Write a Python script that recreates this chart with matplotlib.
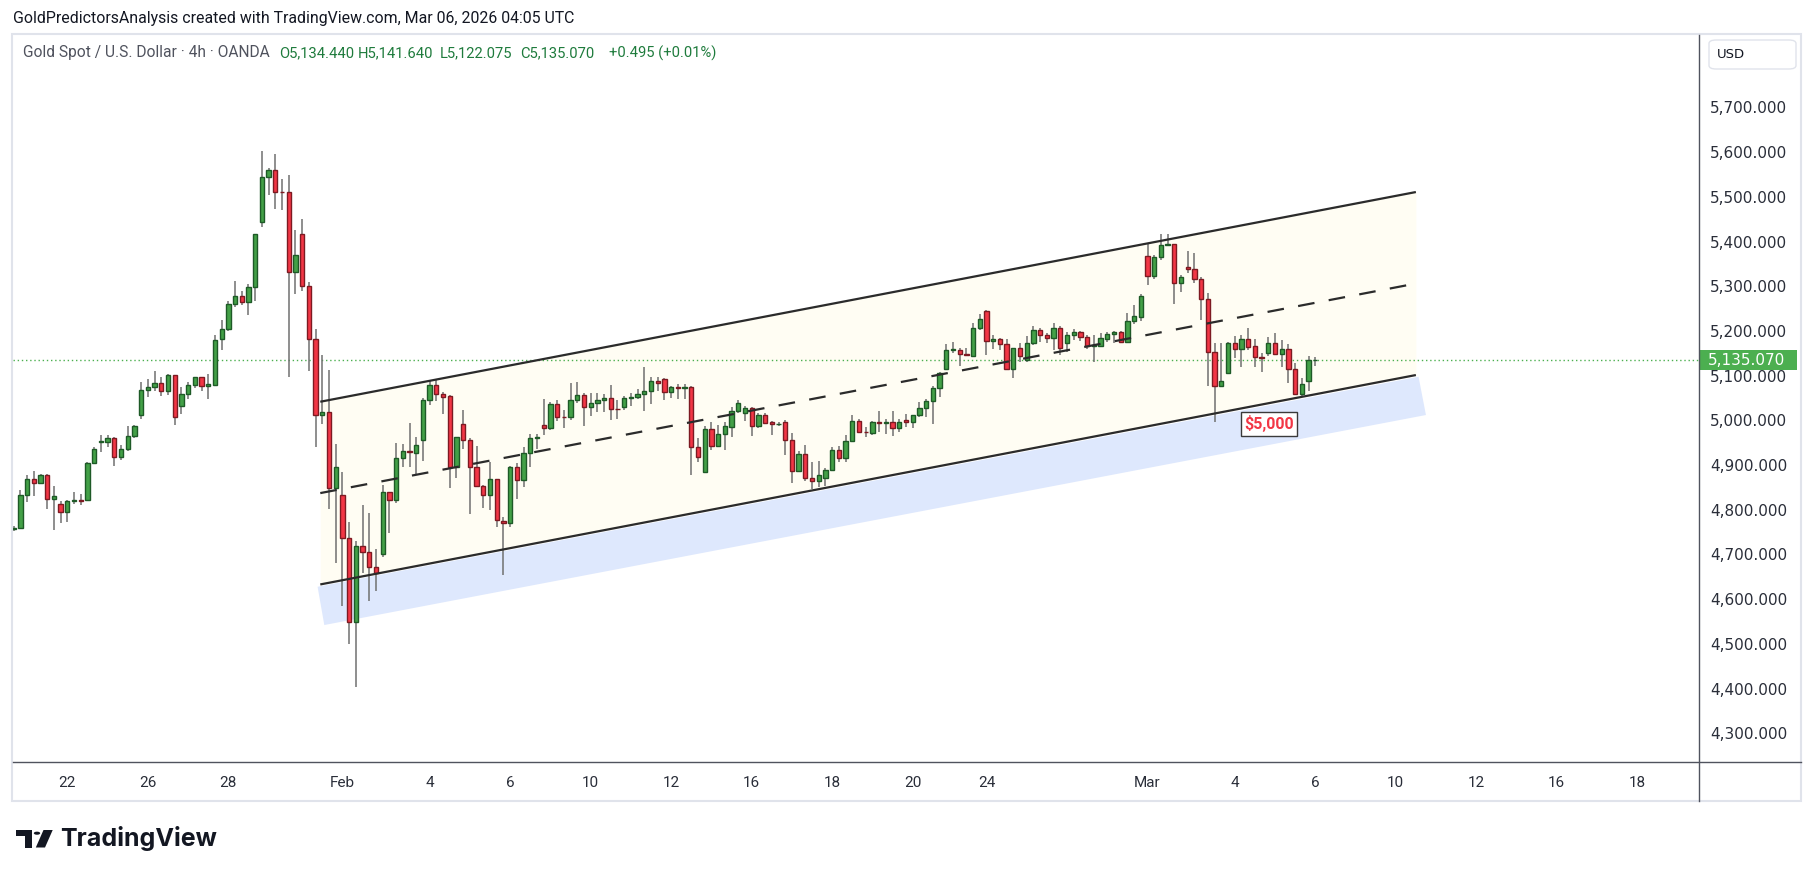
import numpy as np
import matplotlib.pyplot as plt
from matplotlib.patches import Rectangle, Polygon, FancyBboxPatch, Circle
from matplotlib.transforms import blended_transform_factory

# 4h candles, XAUUSD (OANDA)
opens = [4757, 4760, 4834, 4868, 4859, 4877, 4825, 4814, 4796, 4820,
         4821, 4822, 4904, 4952, 4952, 4960, 4917, 4937, 4965, 5013,
         5069, 5074, 5083, 5066, 5101, 5033, 5058, 5080, 5096, 5076,
         5080, 5181, 5204, 5260, 5278, 5265, 5298, 5444, 5544, 5561,
         5512, 5510, 5333, 5418, 5300, 5183, 5011, 5018, 4848, 4833,
         4736, 4548, 4718, 4705, 4673, 4702, 4839, 4823, 4915, 4931,
         4926, 4957, 5045, 5079, 5058, 5054, 4896, 4993, 4957, 4895,
         4854, 4834, 4868, 4776, 4771, 4895, 4866, 4928, 4960, 4989,
         4982, 5036, 5008.5, 5007, 5045, 5056, 5031, 5038, 5045, 5049,
         5026.5, 5031, 5051, 5052, 5060, 5065, 5089, 5093, 5063, 5074,
         5072, 5074, 4940, 4885, 4980, 4943, 4969, 4986, 5020, 5016,
         5027, 4988, 5012, 4996, 4991, 4996, 4955, 4887, 4924, 4870,
         4864, 4870, 4889, 4934, 4915, 4954, 4998, 4975, 4971, 4997,
         4995, 4996, 4984, 5000, 4996, 5011, 5027, 5043, 5072, 5116,
         5157, 5157, 5148, 5145, 5206, 5245, 5177, 5182, 5170, 5114,
         5163, 5134, 5174, 5202, 5192, 5184, 5206, 5172, 5191, 5197,
         5186, 5166, 5166, 5181, 5193, 5197, 5175, 5222, 5232, 5368,
         5324, 5365, 5392, 5394, 5307, 5344, 5338, 5317, 5272, 5154,
         5078, 5105, 5174, 5159, 5181, 5166, 5141, 5151, 5172, 5148,
         5159, 5116, 5060, 5089, 5134.44]
highs = [4763, 4844, 4878, 4887, 4880, 4880, 4853, 4820, 4823, 4839,
         4835, 4906, 4941, 4967, 4967, 4963, 4946, 4987, 4990, 5085,
         5092, 5110, 5096, 5103, 5102, 5075, 5085, 5098, 5098, 5104,
         5191, 5224, 5268, 5312, 5289, 5306, 5418, 5603, 5565, 5596,
         5541, 5549, 5426, 5450, 5310, 5204, 5146, 5113, 4947, 4884,
         4773, 4730, 4811, 4793, 4712, 4855, 4840, 4949, 4948, 4994,
         4962, 5051, 5090, 5090, 5064, 5057, 4963, 5023, 4960, 4943,
         4855, 4906, 4869, 4783, 4898, 4904, 4940, 4969, 4969, 5047,
         5041, 5045, 5023, 5084, 5085, 5062, 5062, 5062, 5060, 5079,
         5045, 5055, 5062, 5071, 5119, 5098, 5098, 5095, 5078, 5081,
         5082, 5078, 4960, 4987, 4997, 4990, 4997, 5029, 5045, 5032,
         5031, 5016, 5017, 4999, 4996, 5001, 4971, 4931, 4945, 4908,
         4910, 4893, 4941, 4943, 4967, 5011, 5002, 4986, 4998, 5021,
         5004, 5021, 5002, 5014, 5011, 5042, 5048, 5078, 5109, 5170,
         5175, 5163, 5163, 5217, 5239, 5248, 5191, 5184, 5181, 5163,
         5174, 5189, 5211, 5206, 5196, 5217, 5211, 5198, 5204, 5201,
         5190, 5192, 5196, 5198, 5200, 5200, 5241, 5258, 5282, 5396,
         5370, 5418, 5417, 5395, 5325, 5379, 5375, 5321, 5286, 5172,
         5172, 5176, 5189, 5191, 5207, 5181, 5150, 5187, 5195, 5180,
         5171, 5128, 5094, 5144, 5141.64]
lows = [4752, 4757, 4818, 4831, 4857, 4802, 4755, 4771, 4773, 4814,
        4811, 4820, 4902, 4930, 4940, 4899, 4911, 4932, 4960, 5004,
        5053, 5066, 5055, 5057, 4990, 5014, 5048, 5073, 5066, 5047,
        5078, 5157, 5200, 5253, 5259, 5236, 5268, 5433, 5504, 5473,
        5471, 5098, 5283, 5290, 5111, 4941, 4993, 4801, 4680, 4585,
        4499, 4403, 4658, 4597, 4619, 4695, 4747, 4816, 4895, 4895,
        4880, 4910, 5034, 5044, 5014, 4848, 4872, 4937, 4790, 4850,
        4803, 4799, 4761, 4655, 4761, 4825, 4852, 4895, 4935, 4967,
        4978, 4998, 4982, 5001, 5038, 4988, 5010, 5019, 5019, 5000,
        5004, 5023, 5033, 5047, 5020, 5036, 5066, 5045, 5051, 5047,
        5047, 4878, 4908, 4885, 4934, 4942, 4934, 4963, 5016, 4999,
        4966, 4984, 4991, 4967, 4988, 4923, 4859, 4885, 4865, 4846,
        4852, 4853, 4887, 4906, 4906, 4952, 4972, 4962, 4967, 4973,
        4970, 4964, 4975, 4986, 4982, 5008, 5007, 4991, 5053, 5115,
        5150, 5122, 5145, 5144, 5202, 5146, 5160, 5157, 5113, 5094,
        5131, 5131, 5169, 5176, 5174, 5157, 5146, 5154, 5180, 5178,
        5159, 5131, 5165, 5176, 5174, 5174, 5172, 5215, 5223, 5303,
        5316, 5359, 5389, 5260, 5288, 5330, 5307, 5225, 5077, 4997,
        5077, 5105, 5139, 5119, 5157, 5120, 5109, 5143, 5146, 5120,
        5083, 5058, 5052, 5066, 5122.075]
closes = [4760, 4834, 4868, 4859, 4877, 4825, 4831, 4796, 4819, 4821,
          4819, 4904, 4935, 4954, 4960, 4917, 4937, 4965, 4987, 5069,
          5074, 5083, 5066, 5101, 5007, 5058, 5080, 5096, 5076, 5081,
          5179, 5204, 5260, 5278, 5265, 5298, 5418, 5544, 5561, 5512,
          5510, 5333, 5369, 5300, 5183, 5011, 5018, 4848, 4895, 4736,
          4548, 4718, 4705, 4673, 4659, 4839, 4823, 4915, 4931, 4929,
          4946, 5045, 5079, 5058, 5053, 4896, 4962, 4957, 4895, 4854,
          4834, 4868, 4778, 4771, 4895, 4866, 4928, 4960, 4962, 4982,
          5036, 5007, 5007, 5045, 5056, 5031, 5038, 5045, 5049, 5025,
          5025, 5051, 5053, 5060, 5065, 5089, 5083, 5063, 5074, 5072,
          5074, 4940, 4919, 4980, 4943, 4969, 4987, 5020, 5040, 5027,
          4988, 5012, 4995, 4991, 4993, 4955, 4887, 4924, 4870, 4864,
          4877, 4889, 4934, 4915, 4954, 4998, 4975, 4973, 4996, 4995,
          4997, 4984, 4996, 4996, 5011, 5027, 5043, 5072, 5107, 5157,
          5159, 5148, 5146, 5206, 5226, 5177, 5182, 5170, 5114, 5163,
          5143, 5174, 5202, 5192, 5184, 5206, 5161, 5191, 5197, 5186,
          5166, 5168, 5185, 5193, 5197, 5175, 5222, 5233, 5278, 5324,
          5366, 5392, 5394, 5307, 5320, 5338, 5317, 5272, 5154, 5078,
          5087, 5174, 5159, 5181, 5165, 5141, 5139, 5172, 5148, 5159,
          5116, 5060, 5081, 5134, 5135.07]

# time axis: candle index where each date label sits
tick_idx = [8, 20, 32, 49, 62, 74, 86, 98, 110, 122, 134, 145,
            169, 182, 194, 206, 218, 230, 242]
tick_labels = ['22', '26', '28', 'Feb', '4', '6', '10', '12', '16', '18',
               '20', '24', 'Mar', '4', '6', '10', '12', '16', '18']
price_ticks = list(range(4300, 5701, 100))
last_price = 5135.07

# ascending channel drawing (candle index, price)
chan_x = [45.7, 209.0]
chan_upper = [5041.7, 5510.8]
chan_lower = [4633.0, 5101.4]
# support band under the channel
band_x = [45.3, 209.4, 210.5, 46.3]
band_y = [4627.8, 5097.6, 5012.0, 4542.2]
# price note
note_x, note_price, note_text = 187.1, 4992.3, '$5,000'

W, H = 1814, 877
fig = plt.figure(figsize=(W / 100, H / 100), dpi=100)
fig.patch.set_facecolor('white')


def fx(px):
    return px / W


def fy(py):
    return 1 - py / H


ax = fig.add_axes([fx(13), fy(762), fx(1699) - fx(13), fy(35) - fy(762)])
ax.set_xlim(-0.1, 251.2)
ax.set_ylim(4235.8, 5862.1)
for s in ax.spines.values():
    s.set_visible(False)

# channel fill, band, lines
ax.fill_between(chan_x, chan_lower, chan_upper, color='#fffdf3', zorder=0.5, lw=0)
ax.add_patch(Polygon(list(zip(band_x, band_y)), closed=True, fc='#dee8fd', ec='none', zorder=0.6))
ax.plot(chan_x, chan_upper, color='#2b2b2b', lw=1.6, zorder=4, solid_capstyle='butt')
ax.plot(chan_x, chan_lower, color='#2b2b2b', lw=1.6, zorder=4, solid_capstyle='butt')
mid = [(a + b) / 2 for a, b in zip(chan_upper, chan_lower)]
ax.plot(chan_x, mid, color='#2b2b2b', lw=1.6, ls=(0, (7.5, 6.5)), zorder=4)

# candles
x = np.arange(len(opens))
o = np.array(opens, dtype=float)
c = np.array(closes, dtype=float)
up = c >= o
fill = np.where(up, '#43a047', '#f23645')
edge = np.where(up, '#1e5a27', '#7d1a22')
ax.vlines(x, lows, highs, color='#707070', lw=1.1, zorder=2)
ax.bar(x, np.maximum(np.abs(c - o), 1.5), bottom=np.minimum(o, c), width=0.64,
       color=fill, edgecolor=edge, linewidth=1.0, zorder=3)

# last price line + label
ax.axhline(last_price, color='#4caf50', lw=1.0, ls=(0, (1, 2)), zorder=1)
bt = blended_transform_factory(ax.transAxes, ax.transData)
ax.add_patch(Rectangle((1.0, last_price - 23), 98 / 1686, 46, transform=bt,
                       fc='#4caf50', ec='none', clip_on=False, zorder=10))
ax.text(1.0 + 9 / 1686, last_price, '{:,.3f}'.format(last_price), transform=bt,
        ha='left', va='center', color='white', fontsize=11, clip_on=False, zorder=11)

# note box
ax.text(note_x, note_price, note_text, ha='center', va='center', color='#f23645',
        fontsize=11.5, fontweight='bold', family='Roboto', zorder=6,
        bbox=dict(boxstyle='square,pad=0.2', fc='white', ec='#3a3a3a', lw=1))

# axes ticks
ax.yaxis.tick_right()
ax.set_yticks(price_ticks)
ax.set_yticklabels(['{:,.3f}'.format(p) for p in price_ticks])
ax.tick_params(axis='y', length=0, pad=8, labelsize=11, labelcolor='#2a2e39')
ax.set_xticks(tick_idx)
ax.set_xticklabels(tick_labels, family='Roboto')
ax.tick_params(axis='x', length=0, pad=10, labelsize=11, labelcolor='#2a2e39')

# frame and dividers
fig.patches.append(Rectangle((fx(12), fy(801)), fx(1801) - fx(12), fy(34) - fy(801),
                             transform=fig.transFigure, fill=False, ec='#e0e3eb', lw=1.5))
fig.lines.append(plt.Line2D([fx(1699), fx(1699)], [fy(35), fy(801)], transform=fig.transFigure,
                            color='#50535e', lw=1))
fig.lines.append(plt.Line2D([fx(13), fx(1801)], [fy(762), fy(762)], transform=fig.transFigure,
                            color='#50535e', lw=1))
fig.patches.append(FancyBboxPatch((fx(1709), fy(69)), fx(1796) - fx(1709), fy(40) - fy(69),
                                  boxstyle='round,pad=0,rounding_size=0.004',
                                  transform=fig.transFigure, fc='white', ec='#e0e3eb', lw=1))
fig.text(fx(1717), fy(54), 'USD', ha='left', va='center', fontsize=9.5, color='#131722')

# header texts
fig.text(fx(13), fy(19), 'GoldPredictorsAnalysis created with TradingView.com, Mar 06, 2026 04:05 UTC',
         ha='left', va='center', fontsize=11.4, family='Roboto', color='#131722')
fig.text(fx(23), fy(53), 'Gold Spot / U.S. Dollar \u00b7 4h \u00b7 OANDA',
         ha='left', va='center', fontsize=11.2, family='Roboto', color='#50535e')
ohlc_text = ['O5,134.440', 'H5,141.640', 'L5,122.075', 'C5,135.070', '+0.495 (+0.01%)']
for px, s in zip([279, 357.5, 439.7, 520.6, 608.6], ohlc_text):
    fig.text(fx(px), fy(53), s, ha='left', va='center', fontsize=10.6,
             family='Roboto', color='#1e7b3c')

# TradingView logo
k = '#131722'
fig.patches.append(Rectangle((fx(15.7), fy(836)), fx(31.7) - fx(15.7), fy(830) - fy(836),
                             transform=fig.transFigure, fc=k, ec='none'))
fig.patches.append(Rectangle((fx(25), fy(847.5)), fx(31.7) - fx(25), fy(830) - fy(847.5),
                             transform=fig.transFigure, fc=k, ec='none'))
fig.patches.append(Circle((fx(37), fy(833.2)), 3.2 / W, transform=fig.transFigure, fc=k, ec='none'))
fig.patches.append(Polygon([(fx(43.5), fy(830)), (fx(52.7), fy(830)),
                            (fx(45), fy(847.5)), (fx(35.8), fy(847.5))],
                           closed=True, transform=fig.transFigure, fc=k, ec='none'))
fig.text(fx(60), fy(838.5), 'TradingView', ha='left', va='center', fontsize=18,
         fontweight='bold', family='Inter', color=k)

fig.savefig('out.png', dpi=100)
plt.close(fig)
